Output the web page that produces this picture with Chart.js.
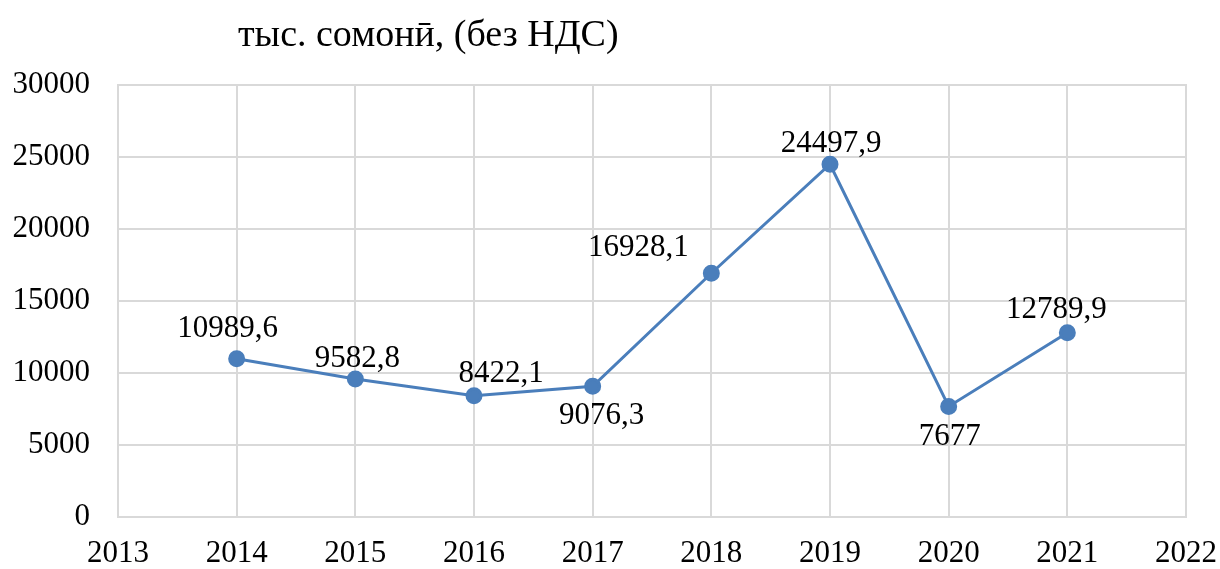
<!DOCTYPE html>
<html>
<head>
<meta charset="utf-8">
<script src="https://cdn.jsdelivr.net/npm/chart.js@4/dist/chart.umd.min.js"></script>
<style>
  html, body { margin: 0; padding: 0; background: #fff; }
</style>
</head>
<body>
<canvas id="graphique" width="1220" height="569"></canvas>
<script>
// donnees du graphique
const annees = [2014, 2015, 2016, 2017, 2018, 2019, 2020, 2021];
const valeurs = [10989.6, 9582.8, 8422.1, 9076.3, 16928.1, 24497.9, 7677, 12789.9];
const etiquettes = ["10989,6", "9582,8", "8422,1", "9076,3", "16928,1", "24497,9", "7677", "12789,9"];
const titre = "тыс. сомонӣ, (без НДС)";

// decalage des etiquettes par rapport au point (dx, dy)
const decalages = [[-9, -30], [2, -20], [27, -22], [9, 30], [-73, -25], [1, -20], [1, 30], [-11, -23]];

const police = "Liberation Serif, Times New Roman, serif";

const pluginEtiquettes = {
    id: "etiquettes",
    afterDatasetsDraw(chart) {
        const ctx = chart.ctx;
        const meta = chart.getDatasetMeta(0);
        ctx.save();
        ctx.font = "31px " + police;
        ctx.fillStyle = "#000";
        ctx.textAlign = "center";
        ctx.textBaseline = "middle";
        for (let i = 0; i < meta.data.length; i++) {
            const p = meta.data[i];
            ctx.fillText(etiquettes[i], p.x + decalages[i][0], p.y + decalages[i][1]);
        }
        // titre
        ctx.textAlign = "left";
        ctx.font = "38px " + police;
        ctx.fillText(titre, 238, 36);
        ctx.restore();
    }
};

const config = {
    type: "line",
    data: {
        datasets: [{
            data: annees.map((a, i) => ({ x: a, y: valeurs[i] })),
            borderColor: "#4a7ebb",
            backgroundColor: "#4a7ebb",
            borderWidth: 3,
            pointRadius: 7,
            pointHoverRadius: 7,
            tension: 0
        }]
    },
    options: {
        responsive: false,
        animation: false,
        layout: { padding: { top: 85, right: 34, left: 0, bottom: 0 } },
        plugins: { legend: { display: false }, tooltip: { enabled: false } },
        scales: {
            x: {
                type: "linear",
                min: 2013,
                max: 2022,
                ticks: { stepSize: 1, color: "#000", font: { family: police, size: 31 }, padding: 18,
                         callback: v => String(v) },
                grid: { color: "#d9d9d9", lineWidth: 2, drawTicks: false },
                border: { color: "#d9d9d9", width: 2 },
                afterFit: s => { s.height = 52; s.paddingRight = 0; s.paddingLeft = 0; }
            },
            y: {
                min: 0,
                max: 30000,
                ticks: { stepSize: 5000, color: "#000", font: { family: police, size: 31 }, padding: 28,
                         callback: v => String(v) },
                grid: { color: "#d9d9d9", lineWidth: 2, drawTicks: false },
                border: { color: "#d9d9d9", width: 2 },
                afterFit: s => { s.width = 118; s.paddingTop = 0; s.paddingBottom = 0; }
            }
        }
    },
    plugins: [pluginEtiquettes, {
        id: "cadre",
        beforeDatasetsDraw(chart) {
            const a = chart.chartArea;
            const ctx = chart.ctx;
            ctx.save();
            ctx.strokeStyle = "#d9d9d9";
            ctx.lineWidth = 2;
            ctx.strokeRect(a.left, a.top, a.right - a.left, a.bottom - a.top);
            ctx.restore();
        }
    }]
};

new Chart(document.querySelector("#graphique"), config);
</script>
</body>
</html>
